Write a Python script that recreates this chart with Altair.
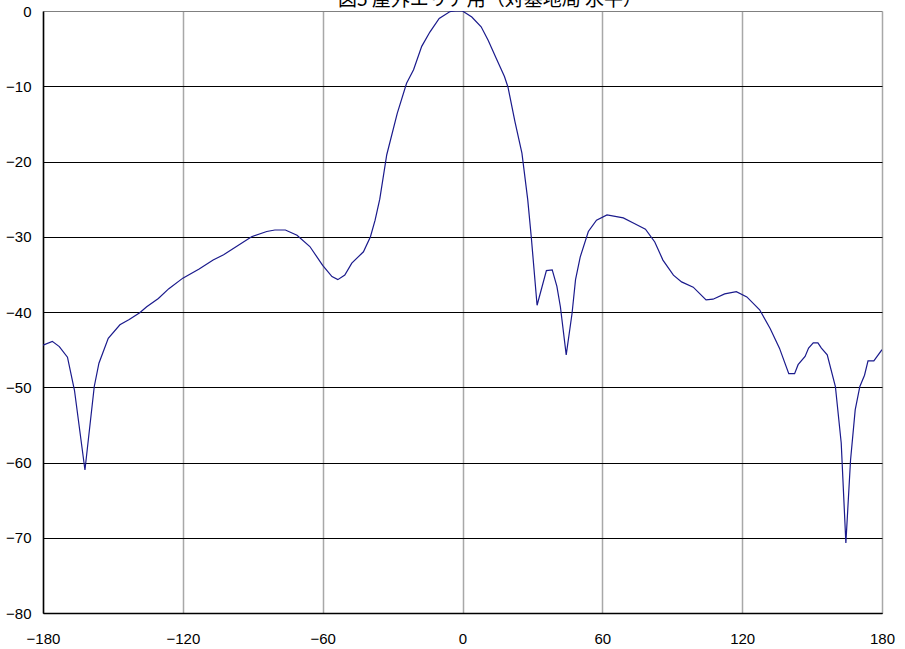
import altair as alt
import pandas as pd

angle_deg = [-180, -176, -173, -169.5, -166.5, -162, -158, -156, -152, -147, -143, -138.5,
             -135.5, -130.5, -126, -120, -113, -107, -102.5, -97, -90.5, -84, -80.5, -76,
             -71, -65.5, -60, -56, -53.5, -50.5, -47.5, -42.5, -39.5, -37.5, -35.5, -32.5,
             -28, -24, -21, -17.5, -14, -10, -5.5, -3, 0, 4, 8, 11, 14.5, 18, 19.5, 22.5,
             25.5, 28, 29.5, 32, 36, 38.5, 40.5, 42, 44.5, 47, 48.5, 50.5, 54, 57.5, 62,
             69, 73.5, 78.5, 82.5, 86, 90.5, 94, 99, 104.5, 107.5, 112.5, 117.5, 122,
             127.5, 132, 136, 140, 142.5, 144, 147, 148.5, 150.5, 152.5, 154, 156.5, 160,
             162.5, 164.5, 166.5, 168.5, 170.5, 172.5, 174, 176.5, 180]
gain_db = [-44.4, -43.9, -44.6, -46.0, -50.4, -61.0, -49.9, -46.8, -43.5, -41.7, -41.0, -40.1,
           -39.3, -38.2, -36.9, -35.5, -34.3, -33.1, -32.4, -31.3, -30.0, -29.3, -29.1, -29.1,
           -29.8, -31.3, -33.8, -35.3, -35.7, -35.1, -33.5, -32.0, -30.0, -27.8, -25.0, -19.1,
           -13.6, -9.6, -7.8, -4.7, -2.8, -1.0, -0.1, 0, 0, -0.8, -2.1, -3.9, -6.3, -8.7, -10.1, -14.7,
           -18.9, -25.1, -30.0, -39.1, -34.5, -34.4, -36.6, -39.3, -45.7, -40.2, -35.7, -32.7, -29.3, -27.8, -27.1,
           -27.5, -28.2, -29.0, -30.7, -33.1, -35.1, -36.0, -36.7, -38.4, -38.3, -37.6, -37.3, -38.0,
           -39.7, -42.2, -44.8, -48.2, -48.2, -47.0, -45.9, -44.8, -44.1, -44.1, -44.8, -45.7, -49.9,
           -57.4, -70.7, -59.7, -53.0, -49.9, -48.4, -46.5, -46.5, -45.0]

x_ticks = [-180, -120, -60, 0, 60, 120, 180]
y_ticks = [0, -10, -20, -30, -40, -50, -60, -70, -80]
title_text = "図5 屋外エリア用（対基地局 水平）"

df = pd.DataFrame({"angle": angle_deg, "gain": gain_db})

TITLE_FONT = "Noto Sans CJK JP"
LABEL_FONT = "Liberation Sans"

line = alt.Chart(df).mark_line(color="#1a1a8c", strokeWidth=1.2, clip=True).encode(
    x=alt.X("angle:Q", scale=alt.Scale(domain=[-180, 180], nice=False, zero=False),
            axis=alt.Axis(values=x_ticks, title=None, grid=True, gridColor="#a8a8a8",
                          gridWidth=1.5, ticks=False, domain=True, domainColor="black",
                          domainWidth=1.5, labelFont=LABEL_FONT, labelFontSize=15,
                          labelColor="black", labelPadding=18, labelFlush=False)),
    y=alt.Y("gain:Q", scale=alt.Scale(domain=[-80, 0], nice=False, zero=False),
            axis=alt.Axis(values=y_ticks, title=None, grid=True,
                          gridColor={"condition": {"test": "datum.value == 0", "value": "#808080"}, "value": "black"},
                          gridWidth=1, ticks=False, domain=True, domainColor="black",
                          domainWidth=1.5, labelFont=LABEL_FONT, labelFontSize=15,
                          labelColor="black", labelPadding=12)),
)

title = alt.Chart(pd.DataFrame({"t": [title_text]})).mark_text(
    font=TITLE_FONT, fontSize=19, color="black", align="left", baseline="alphabetic"
).encode(
    text="t:N",
    x=alt.value(295),
    y=alt.value(-5),
)

chart = alt.layer(line, title).properties(
    width=839, height=602,
    autosize=alt.AutoSizeParams(type="none"),
    padding={"left": 43, "top": 11, "right": 23, "bottom": 36},
    background="white",
).configure_view(stroke=None)

chart.save("out.html", embed_options={"renderer": "svg", "actions": False})
